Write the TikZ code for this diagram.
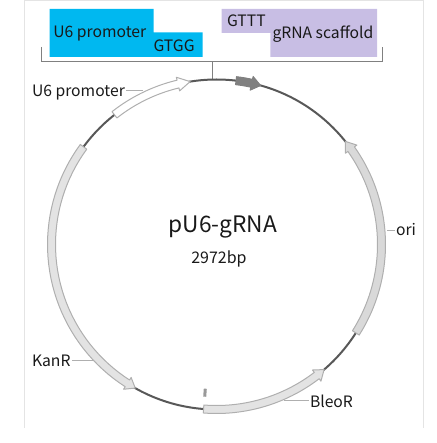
\documentclass[tikz,border=0pt]{standalone}
\usepackage{fontspec}
\setmainfont{Noto Sans CJK SC}
\usepackage{xcolor}
\usepackage{tikz}
\usetikzlibrary{calc}
\definecolor{PromoterBlue}{RGB}{0, 184, 240}
\definecolor{ScaffoldPurple}{RGB}{200, 190, 228}
\definecolor{BackboneGray}{RGB}{88, 88, 88}
\definecolor{EdgeGray}{RGB}{175, 175, 175}
\definecolor{FrameGray}{RGB}{228, 228, 228}
% ring feature: start angle, head angle, tip angle, style
\newcommand{\ringarrow}[4]{
  \draw[#4] plot[domain=#1:#2, samples=40] (\x:169) -- (#2:172) -- (#3:165) -- (#2:158) -- plot[domain=#2:#1, samples=40] (\x:161) -- cycle;
}
\begin{document}
\begin{tikzpicture}[
  x=1pt, y=1pt,
  label/.style={font=\fontsize{15.7}{15.7}\selectfont, inner sep=0pt, outer sep=1.5pt, anchor=base west, text=black!90},
  leader/.style={draw=EdgeGray, line width=1pt},
  bracket/.style={draw=black!50, line width=1pt},
  feature/.style={draw=EdgeGray, line width=1pt, fill=black!11, line join=round},
  backbone/.style={draw=BackboneGray, line width=2pt}
]
\useasboundingbox (0,0) rectangle (436,-443);
\draw[FrameGray, line width=0.9pt] (24.5,-428) -- (24.5,-0.5) -- (423.5,-0.5) -- (423.5,-428);

% sequence boxes
\fill[PromoterBlue] (49.7,-9) -- (153.7,-9) -- (153.7,-32.5) -- (202.7,-32.5) -- (202.7,-57) -- (49.7,-57) -- cycle;
\fill[ScaffoldPurple] (221.7,-9) -- (377,-9) -- (377,-57) -- (270.3,-57) -- (270.3,-33) -- (221.7,-33) -- cycle;
\node[label] (u6seq) at (51.8,-37.3) {U6 promoter};
\node[label] (gtgg) at (152,-51.3) {GTGG};
\node[label] (gttt) at (225.5,-26.7) {GTTT};
\node[label] (scaffold) at (271,-38.3) {gRNA scaffold};

% bracket
\coordinate (brk) at (212.3,-61.7);
\coordinate (top) at (212.3,-79);
\draw[bracket] (41.7,-47) -- (41.7,-61.7) -- (382.3,-61.7) -- (382.3,-47);
\draw[bracket] (brk) -- (top);

% plasmid ring
\begin{scope}[shift={(216.5,-244.5)}]
\draw[backbone] (0,0) circle[radius=165];
\ringarrow{128.2}{103.5}{99.2}{feature, fill=white}
\ringarrow{83.2}{77.7}{74.5}{feature, fill=black!50, draw=black!50}
\ringarrow{-32.4}{35.3}{38.7}{feature, fill=black!15}
\ringarrow{265.5}{307.4}{310.7}{feature}
\ringarrow{143.7}{237.3}{240.5}{feature}
\end{scope}
\fill[black!40, rotate around={-4:(205,-392.7)}] (203.5,-388.7) rectangle (206.5,-396.7);

% names
\node[font=\fontsize{22.7}{22.7}\selectfont, inner sep=0pt, anchor=base, text=black!90] (name) at (223,-232.7) {pU6-gRNA};
\node[font=\fontsize{16}{16}\selectfont, inner sep=0pt, anchor=base, text=black!90] (size) at (219,-263.7) {2972bp};

\node[label] (u6) at (30.5,-96.7) {U6 promoter};
\node[label] (kan) at (30.5,-366) {KanR};
\node[label] (bleo) at (308.5,-407.3) {BleoR};
\node[label] (ori) at (394.5,-235.7) {ori};
\coordinate (u6end) at (143.3,-91);
\coordinate (kanend) at (93.3,-360);
\coordinate (bleoend) at (284.3,-400.3);
\coordinate (oriend) at (386.7,-230.7);
\draw[leader] (u6.east |- u6end) -- (u6end);
\draw[leader] (kan.east |- kanend) -- (kanend);
\draw[leader] (bleo.west |- bleoend) -- (bleoend);
\draw[leader] (ori.west |- oriend) -- (oriend);
\end{tikzpicture}
\end{document}
